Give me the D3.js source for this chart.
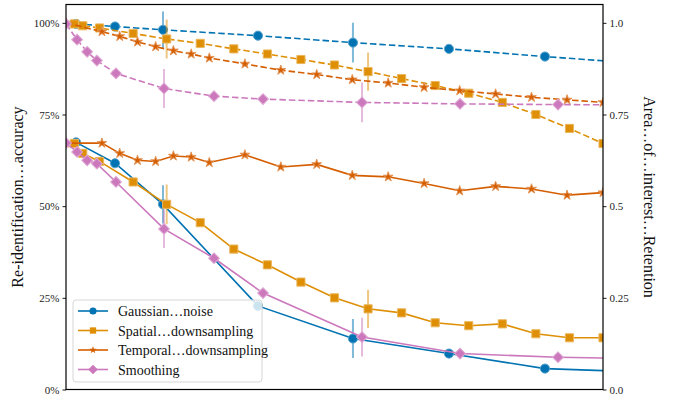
<!DOCTYPE html>
<html>
<head>
<meta charset="utf-8">
<script src="https://cdn.jsdelivr.net/npm/d3@7"></script>
<style>
  body { margin: 0; background: #fff; }
  svg { display: block; font-family: "Liberation Serif", "DejaVu Serif", serif; }
</style>
</head>
<body>
<div id="chart"></div>
<script>
// series names and colours
const names = ['Gaussian…noise', 'Spatial…downsampling', 'Temporal…downsampling', 'Smoothing'];
const colors = ['#0173b2', '#de8f05', '#d55e00', '#cc78bc'];

// x positions (no tick labels in the picture, read in plot units 0..16)
const gaussX = [0.30, 1.46, 2.89, 5.72, 8.55, 11.41, 14.27, 17.13];
const spatialX = [0.25, 0.5, 1, 2, 3, 4, 5, 6, 7, 8, 9, 10, 11, 12, 13, 14, 15, 16];
const temporalX = [0, 1.07, 1.6, 2.13, 2.67, 3.2, 3.73, 4.27, 5.33, 6.4, 7.47, 8.53, 9.6, 10.67, 11.73, 12.8, 13.87, 14.93, 16];
const smoothX = [0, 0.33, 0.63, 0.92, 1.49, 2.92, 4.41, 5.87, 8.82, 11.74, 14.66, 17.58];

// re-identification accuracy (solid, left axis)
const gaussAcc = [0.674, 0.617, 0.505, 0.228, 0.139, 0.098, 0.057, 0.048];
const spatialAcc = [0.671, 0.644, 0.622, 0.566, 0.505, 0.455, 0.383, 0.340, 0.293, 0.250, 0.220, 0.209, 0.182, 0.174, 0.179, 0.152, 0.141, 0.141];
const temporalAcc = [0.672, 0.672, 0.644, 0.625, 0.622, 0.637, 0.634, 0.619, 0.640, 0.607, 0.614, 0.584, 0.580, 0.562, 0.542, 0.554, 0.547, 0.530, 0.537];
const smoothAcc = [0.672, 0.648, 0.625, 0.616, 0.566, 0.438, 0.358, 0.263, 0.143, 0.098, 0.088, 0.083];

// area of interest retention (dashed, right axis)
const gaussRet = [0.997, 0.990, 0.981, 0.965, 0.946, 0.929, 0.908, 0.889];
const spatialRet = [0.997, 0.992, 0.986, 0.971, 0.956, 0.944, 0.929, 0.915, 0.900, 0.885, 0.867, 0.848, 0.829, 0.808, 0.783, 0.750, 0.712, 0.671];
const temporalRet = [1.0, 0.976, 0.963, 0.948, 0.935, 0.924, 0.915, 0.904, 0.888, 0.871, 0.859, 0.845, 0.836, 0.824, 0.815, 0.806, 0.797, 0.790, 0.783];
const smoothRet = [0.997, 0.954, 0.921, 0.897, 0.862, 0.821, 0.800, 0.792, 0.783, 0.779, 0.777, 0.776];

// error bars (only a few points have them)
const gaussAccErr = [null, null, 0.052, null, 0.053, null, null, null];
const gaussRetErr = [null, null, 0.050, null, 0.054, null, null, null];
const spatialAccErr = [null, null, null, null, 0.054, null, null, null, null, null, 0.052, null, null, null, null, null, null, null];
const spatialRetErr = [null, null, null, null, 0.053, null, null, null, null, null, 0.052, null, null, null, null, null, null, null];
const smoothAccErr = [null, null, null, null, null, 0.052, null, null, 0.053, null, null, null];
const smoothRetErr = [null, null, null, null, null, 0.053, null, null, 0.054, null, null, null];

const leftTicks = [0, 0.25, 0.5, 0.75, 1.0];
const leftTickLabels = ['0%', '25%', '50%', '75%', '100%'];
const rightTickLabels = ['0.0', '0.25', '0.5', '0.75', '1.0'];

const width = 678, height = 403;
const margin = { top: 4.5, right: 75, bottom: 13.5, left: 66 };

const svg = d3.select('#chart').append('svg')
  .attr('width', width)
  .attr('height', height);

const x = d3.scaleLinear().domain([0, 16]).range([margin.left, width - margin.right]);
const y = d3.scaleLinear().domain([0, 1.05]).range([height - margin.bottom, margin.top]);

svg.append('defs').append('clipPath').attr('id', 'plot-clip')
  .append('rect')
  .attr('x', margin.left).attr('y', margin.top)
  .attr('width', width - margin.left - margin.right)
  .attr('height', height - margin.top - margin.bottom);

const series = [
  { xs: gaussX, acc: gaussAcc, ret: gaussRet, accErr: gaussAccErr, retErr: gaussRetErr, shape: 'circle' },
  { xs: spatialX, acc: spatialAcc, ret: spatialRet, accErr: spatialAccErr, retErr: spatialRetErr, shape: 'square' },
  { xs: temporalX, acc: temporalAcc, ret: temporalRet, accErr: null, retErr: null, shape: 'star' },
  { xs: smoothX, acc: smoothAcc, ret: smoothRet, accErr: smoothAccErr, retErr: smoothRetErr, shape: 'diamond' }
];

function symbolPath(shape, scale) {
  if (shape === 'circle') return d3.symbol(d3.symbolCircle, 66 * scale)();
  if (shape === 'square') return d3.symbol(d3.symbolSquare, 66 * scale)();
  if (shape === 'star') return d3.symbol(d3.symbolStar, 30 * scale)();
  return d3.symbol(d3.symbolSquare, 58 * scale)();
}
function symbolRotate(shape) {
  return shape === 'diamond' ? ' rotate(45)' : '';
}

const plot = svg.append('g').attr('clip-path', 'url(#plot-clip)');

function drawSeries(s, i, key, errKey, dashed) {
  const color = colors[i];
  const pts = s.xs.map((xv, j) => ({ x: xv, y: s[key][j], e: s[errKey] ? s[errKey][j] : null }));
  const g = plot.append('g');

  g.selectAll('.err')
    .data(pts.filter(d => d.e != null))
    .enter().append('line')
    .attr('x1', d => x(d.x)).attr('x2', d => x(d.x))
    .attr('y1', d => y(d.y - d.e)).attr('y2', d => y(d.y + d.e))
    .attr('stroke', color)
    .attr('stroke-opacity', 0.5)
    .attr('stroke-width', 2);

  g.append('path')
    .datum(pts)
    .attr('fill', 'none')
    .attr('stroke', color)
    .attr('stroke-width', 1.6)
    .attr('stroke-dasharray', dashed ? '6.5,3' : null)
    .attr('d', d3.line().x(d => x(d.x)).y(d => y(d.y)));

  const edge = d3.interpolateRgb(color, '#ffffff')(0.35);
  g.selectAll('.mk')
    .data(pts)
    .enter().append('path')
    .attr('d', symbolPath(s.shape, 1))
    .attr('transform', d => 'translate(' + x(d.x) + ',' + y(d.y) + ')' + symbolRotate(s.shape))
    .attr('fill', color)
    .attr('stroke', edge)
    .attr('stroke-width', 1);
}

// solid lines belong to the main axis, dashed to the twin axis drawn on top
series.forEach((s, i) => drawSeries(s, i, 'acc', 'accErr', false));
series.forEach((s, i) => drawSeries(s, i, 'ret', 'retErr', true));

// axes
const yLeft = svg.append('g')
  .attr('transform', 'translate(' + margin.left + ',0)')
  .call(d3.axisLeft(y).tickValues(leftTicks).tickSize(3.5).tickPadding(3)
    .tickFormat((d, i) => leftTickLabels[i]));

const yRight = svg.append('g')
  .attr('transform', 'translate(' + (width - margin.right) + ',0)')
  .call(d3.axisRight(y).tickValues(leftTicks).tickSize(3.5).tickPadding(3)
    .tickFormat((d, i) => rightTickLabels[i]));

[yLeft, yRight].forEach(a => {
  a.select('.domain').remove();
  a.selectAll('line').attr('stroke', '#000').attr('stroke-width', 0.9);
  a.selectAll('text').attr('font-size', 11).attr('fill', '#222')
    .attr('font-family', '"Liberation Serif", serif');
});

// frame
svg.append('rect')
  .attr('x', margin.left).attr('y', margin.top)
  .attr('width', width - margin.left - margin.right)
  .attr('height', height - margin.top - margin.bottom)
  .attr('fill', 'none')
  .attr('stroke', '#000')
  .attr('stroke-width', 1.2);

// axis titles
const midY = (margin.top + height - margin.bottom) / 2;
svg.append('text')
  .attr('transform', 'translate(23,' + midY + ') rotate(-90)')
  .attr('text-anchor', 'middle')
  .attr('font-size', 16)
  .attr('fill', '#111')
  .text('Re-identification…accuracy');

svg.append('text')
  .attr('transform', 'translate(644,' + midY + ') rotate(90)')
  .attr('text-anchor', 'middle')
  .attr('font-size', 16)
  .attr('fill', '#111')
  .text('Area…of…interest…Retention');

// legend
const legend = svg.append('g').attr('transform', 'translate(73,300)');
legend.append('rect')
  .attr('width', 189).attr('height', 82)
  .attr('rx', 3)
  .attr('fill', '#fff').attr('fill-opacity', 0.8)
  .attr('stroke', '#d6d6d6').attr('stroke-width', 1);

const legendScale = [0.6, 0.6, 0.6, 0.8];
names.forEach((name, i) => {
  const row = legend.append('g').attr('transform', 'translate(0,' + (11 + i * 19.5) + ')');
  row.append('line')
    .attr('x1', 5).attr('x2', 35)
    .attr('stroke', colors[i]).attr('stroke-width', 1.6);
  row.append('path')
    .attr('d', symbolPath(series[i].shape, legendScale[i]))
    .attr('transform', 'translate(20,0)' + symbolRotate(series[i].shape))
    .attr('fill', colors[i]);
  row.append('text')
    .attr('x', 45).attr('y', 5)
    .attr('font-size', 14)
    .attr('fill', '#111')
    .text(name);
});
</script>
</body>
</html>
